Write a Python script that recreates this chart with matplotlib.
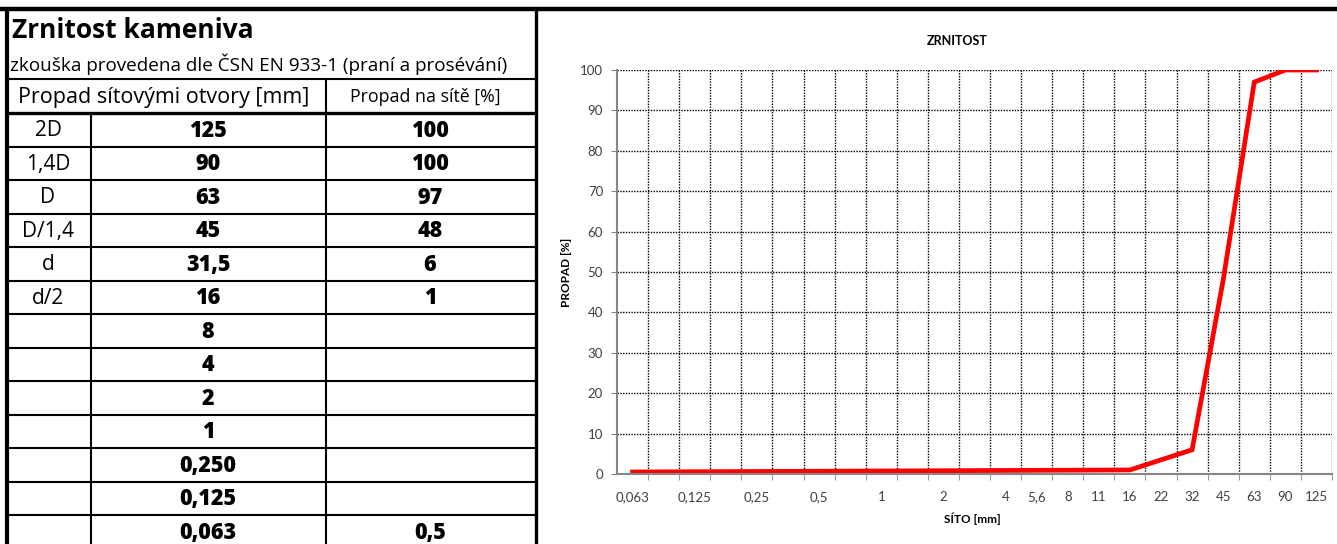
import numpy as np
import matplotlib.pyplot as plt
from matplotlib.lines import Line2D

# table data
row_codes = ['2D', '1,4D', 'D', 'D/1,4', 'd', 'd/2', '', '', '', '', '', '', '']
row_sieves = ['125', '90', '63', '45', '31,5', '16', '8', '4', '2', '1', '0,250', '0,125', '0,063']
row_passing = ['100', '100', '97', '48', '6', '1', '', '', '', '', '', '', '0,5']

# chart data (category axis, empty labels are skipped sieves)
sieve_labels = ['0,063', '', '0,125', '', '0,25', '', '0,5', '', '1', '', '2', '', '4',
                '5,6', '8', '11', '16', '22', '32', '45', '63', '90', '125']
passing = [0.5, None, None, None, None, None, None, None, None, None, None, None, None,
           None, None, None, 1, None, 6, 48, 97, 100, 100]

W, H = 1337, 544
fig = plt.figure(figsize=(W / 100, H / 100), dpi=100)

# background axes in pixel coordinates for the table and frame
bg = fig.add_axes([0, 0, 1, 1])
bg.set_xlim(0, W)
bg.set_ylim(H, 0)
bg.axis('off')

tfont = 'Open Sans'

def hline(y, x0, x1, lw):
    bg.add_line(Line2D([x0, x1], [y, y], color='black', lw=lw, solid_capstyle='butt'))

def vline(x, y0, y1, lw):
    bg.add_line(Line2D([x, x], [y0, y1], color='black', lw=lw, solid_capstyle='butt'))

hline(9, 0, W, 3.2)
vline(6.5, 8, H, 3.0)
vline(535.5, 8, H, 2.4)
hline(79, 6, 535, 1.5)
hline(113, 6, 535, 2.4)
vline(326, 79, H, 1.5)

row_top = 113
row_h = 33.5
for i in range(len(row_sieves)):
    y0 = row_top + i * row_h
    if i > 0:
        hline(y0, 6, 535, 1.5)
    yc = y0 + row_h / 2 + 1
    bg.text(48, yc, row_codes[i], ha='center', va='center', fontsize=15, family=tfont)
    bg.text(208, yc, row_sieves[i], ha='center', va='center', fontsize=15.5,
            family=tfont, fontweight='heavy')
    bg.text(430, yc, row_passing[i], ha='center', va='center', fontsize=15.5,
            family=tfont, fontweight='heavy')
vline(91, 113, H, 1.5)

bg.text(12, 30, 'Zrnitost kameniva', ha='left', va='center', fontsize=19,
        family=tfont, fontweight='bold')
bg.text(10, 64, 'zkouška provedena dle ČSN EN 933-1 (praní a prosévání)', ha='left',
        va='center', fontsize=13.6, family=tfont)
bg.text(164, 97, 'Propad sítovými otvory [mm]', ha='center', va='center', fontsize=15.5,
        family=tfont)
bg.text(425, 97, 'Propad na sítě [%]', ha='center', va='center', fontsize=12.8,
        family=tfont)

# chart
cfont = 'Lato'
ax = fig.add_axes([617 / W, (H - 474) / H, (1332 - 617) / W, (474 - 70) / H])
x = np.arange(len(sieve_labels))
pts = [(xi, v) for xi, v in zip(x, passing) if v is not None]
px, py = zip(*pts)
ax.plot(px, py, color='#ff0000', lw=3.4, solid_joinstyle='miter')

ax.set_xlim(-0.5, len(sieve_labels) - 0.5)
ax.set_ylim(0, 100)
ax.set_yticks(np.arange(0, 101, 10))
ax.set_xticks(x)
ax.set_xticklabels(sieve_labels)
ax.set_xticks(np.arange(0.5, len(sieve_labels)), minor=True)
ax.tick_params(axis='x', which='major', length=0, pad=12, labelsize=9.5, labelcolor='#404040')
ax.tick_params(axis='x', which='minor', length=4, color='#868686', direction='out')
ax.tick_params(axis='y', length=4, color='#868686', labelsize=9.5, labelcolor='#404040', pad=6)
for lbl in ax.get_xticklabels() + ax.get_yticklabels():
    lbl.set_family(cfont)

ax.grid(True, which='minor', axis='x', color='black', ls=(0, (1, 1)), lw=1.0)
ax.grid(True, which='major', axis='y', color='black', ls=(0, (1, 1)), lw=1.0)
ax.set_axisbelow(True)
for s in ['top', 'right']:
    ax.spines[s].set_visible(False)
for s in ['left', 'bottom']:
    ax.spines[s].set_color('#868686')
    ax.spines[s].set_linewidth(1.5)

fig.text(957 / W, 1 - 41 / H, 'ZRNITOST', ha='center', va='center', fontsize=9,
         fontweight='bold', family=cfont)
fig.text(972 / W, 1 - 519 / H, 'SÍTO [mm]', ha='center', va='center', fontsize=8.5,
         fontweight='bold', family=cfont)
fig.text(567 / W, 1 - 272 / H, 'PROPAD [%]', ha='center', va='center', fontsize=8.5,
         fontweight='bold', family=cfont, rotation=90)

fig.savefig('out.png', dpi=100)
